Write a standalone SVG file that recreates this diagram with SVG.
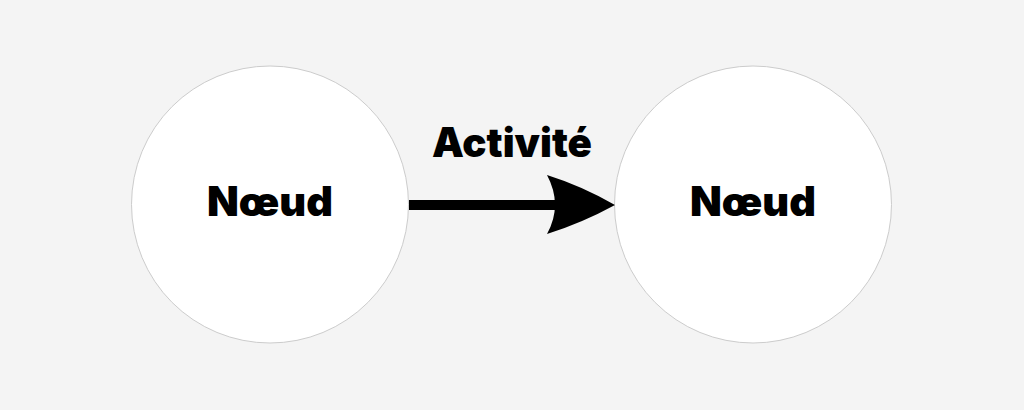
<svg xmlns="http://www.w3.org/2000/svg" width="1024" height="410" viewBox="0 0 1024 410">
<style>
.node{fill:#ffffff;stroke:#cccccc;stroke-width:1}
.lbl{font-family:Inter,"Liberation Sans",sans-serif;font-weight:900;font-size:41px;fill:#000;text-anchor:middle}
</style>
<rect width="1024" height="410" fill="#f4f4f4"/>
<g id="node1">
<circle class="node" cx="270" cy="204.5" r="138.5"/>
<text class="lbl" x="270" y="216" textLength="126" lengthAdjust="spacingAndGlyphs">Nœud</text>
</g>
<g id="node2">
<circle class="node" cx="753" cy="204.5" r="138.5"/>
<text class="lbl" x="753" y="216" textLength="126" lengthAdjust="spacingAndGlyphs">Nœud</text>
</g>
<g id="connectors">
<rect x="409" y="200" width="148" height="10" fill="#000"/>
<path d="M615,205 Q582,186 547,175 Q563,205 547,234 Q582,223 615,205 Z" fill="#000"/>
<text class="lbl" x="512" y="157" textLength="160" lengthAdjust="spacingAndGlyphs">Activité</text>
</g>
</svg>
